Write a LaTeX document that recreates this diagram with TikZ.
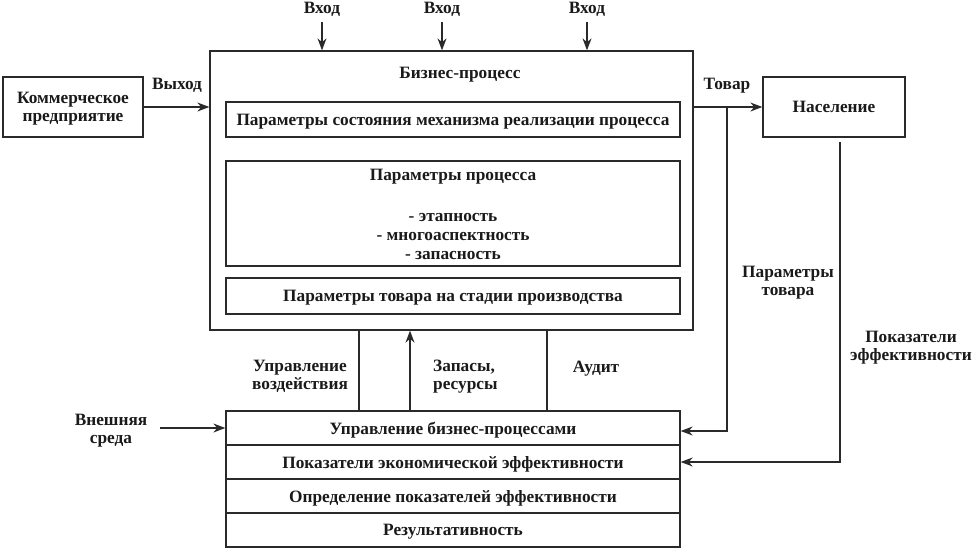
\documentclass[tikz,border=0pt]{standalone}
\usepackage{fontspec}
\setmainfont{Liberation Serif}
\usetikzlibrary{arrows.meta,calc}
\definecolor{ln}{HTML}{2A2A2A}
\definecolor{tx}{HTML}{1A1A1A}
\tikzset{
  box/.style={draw=ln,line width=1.3pt,rectangle,inner sep=0pt,text=tx,text depth=0pt},
  txt/.style={text=tx,inner sep=0pt,align=center,yshift=-2.5pt},
  ln/.style={draw=ln,line width=1.3pt},
  arr/.style={ln,-{Stealth[length=12pt,width=9pt]}},
}
\begin{document}
\begin{tikzpicture}[x=1pt,y=-1pt,every node/.append style={font=\bfseries\fontsize{17.3}{17.5}\selectfont}]
\useasboundingbox (0,0) rectangle (973,549);
\fill[white] (0,0) rectangle (973,549);
% main blocks
\node[box,minimum width=140,minimum height=60,align=center] (comm) at (73,107) {Коммерческое\\предприятие};
\node[box,minimum width=483,minimum height=279] (main) at (451.5,190.5) {};
\node[txt] (title) at (460,72) {Бизнес-процесс};
\node[box,minimum width=454,minimum height=35] (p1) at (453,119.5) {Параметры состояния механизма реализации процесса};
\node[box,minimum width=454,minimum height=105] (p2) at (453,213.5) {};
\node[txt] (p2t) at (453,174) {Параметры процесса};
\node[txt,font=\bfseries\fontsize{17.3}{19}\selectfont] (p2l) at (453,234) {- этапность\\- многоаспектность\\- запасность};
\node[box,minimum width=454,minimum height=36] (p3) at (453,296) {Параметры товара на стадии производства};
\node[box,minimum width=142,minimum height=60] (nas) at (834,107) {Население};
% stack
\node[box,minimum width=454,minimum height=34] (s1) at (453,428) {Управление бизнес-процессами};
\node[box,minimum width=454,minimum height=34] (s2) at (453,462) {Показатели экономической эффективности};
\node[box,minimum width=454,minimum height=34] (s3) at (453,496) {Определение показателей эффективности};
\node[box,minimum width=454,minimum height=34] (s4) at (453,530) {Результативность};
% inputs
\foreach \i/\xx in {1/322,2/442,3/587}{
  \node[txt] (in\i) at (\xx,7) {Вход};
  \coordinate (ic\i) at (\xx,22);
  \draw[arr] (ic\i) -- (ic\i |- main.north);
}
% left output
\node[txt] (vyh) at (177,83) {Выход};
\draw[arr] (comm.east) -- (comm.east -| main.west);
% tovar
\node[txt] (tov) at (727,83) {Товар};
\coordinate (j1) at (727,107);
\draw[arr] (nas.west -| main.east) -- (nas.west);
\draw[arr] (j1) |- ([yshift=-3pt]s1.east);
\node[txt] (pt) at (788,280) {Параметры\\товара};
% pokazateli
\coordinate (j2) at (840,142);
\draw[arr] (j2) |- (s2.east);
\node[txt] (pe) at (911,345) {Показатели\\эффективности};
% verticals
\coordinate (v1) at (359,0);
\coordinate (v2) at (410,0);
\coordinate (v3) at (547,0);
\draw[ln] (v1 |- main.south) -- (v1 |- s1.north);
\draw[arr] (v2 |- s1.north) -- (v2 |- main.south);
\draw[ln] (v3 |- main.south) -- (v3 |- s1.north);
\node[txt] (upr) at (300,374) {Управление\\воздействия};
\node[txt,align=left,anchor=west] (zap) at (433,374) {Запасы,\\ресурсы};
\node[txt] (aud) at (596,366) {Аудит};
% external
\node[txt] (ext) at (111,428) {Внешняя\\среда};
\coordinate (e1) at (160,428);
\draw[arr] (e1) -- (s1.west);
\end{tikzpicture}
\end{document}
